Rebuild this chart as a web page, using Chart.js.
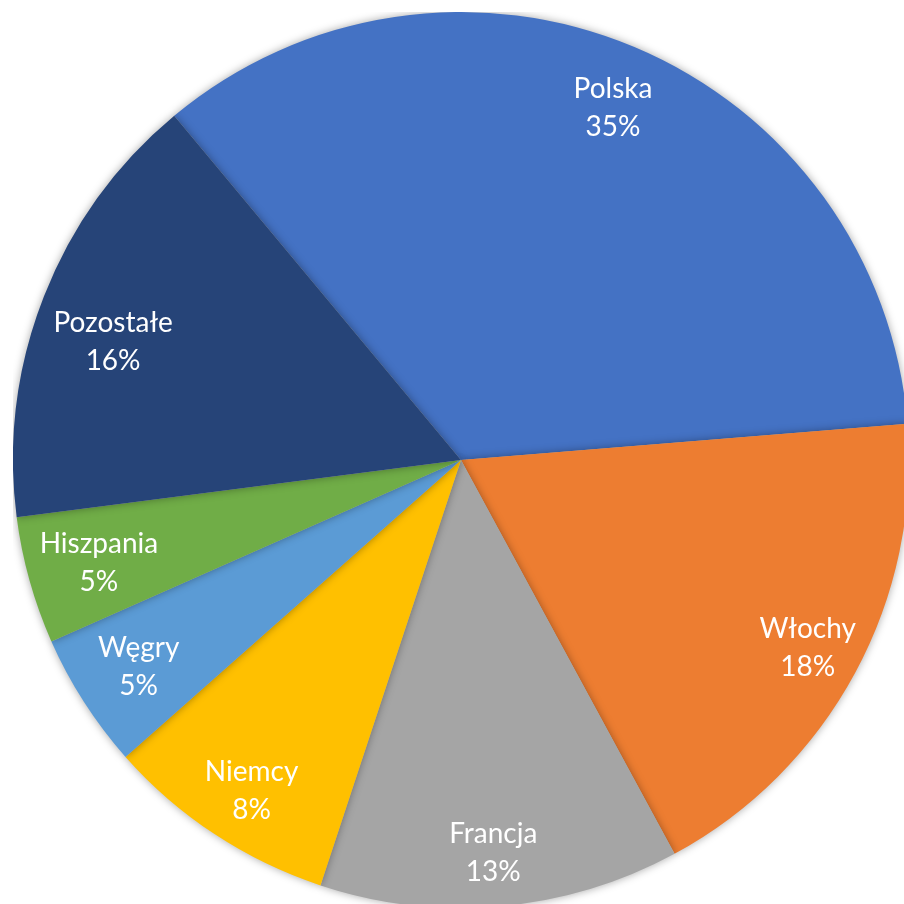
<!DOCTYPE html>
<html>
<head>
<meta charset="utf-8">
<script src="https://cdn.jsdelivr.net/npm/chart.js@4.4.1/dist/chart.umd.min.js"></script>
<style>
    html, body { margin: 0; padding: 0; background: #ffffff; overflow: hidden; width: 904px; height: 904px; }
    #contenedor { position: absolute; left: 13px; top: 12px; width: 896px; height: 896px; }
</style>
</head>
<body>
<div id="contenedor"><canvas id="graficoPaises"></canvas></div>
<script>
// Datos del gráfico
const paises = ['Polska', 'Włochy', 'Francja', 'Niemcy', 'Węgry', 'Hiszpania', 'Pozostałe'];
const valores = [34.8, 18.4, 13.0, 8.4, 4.9, 4.6, 16.0];
const colores = ['#4472C4', '#ED7D31', '#A5A5A5', '#FFC000', '#5B9BD5', '#70AD47', '#264478'];

// Ubicación de cada etiqueta: fracción del radio y giro (grados) respecto al ángulo medio
const distanciaEtiqueta = [0.855, 0.88, 0.88, 0.875, 0.855, 0.84, 0.82];
const giroEtiqueta = [0.6, 0, 0.4, -1.1, 0, -0.2, -2.7];

// Sombra suave alrededor del pastel
const sombraPlugin = {
    id: 'sombra',
    beforeDatasetsDraw(chart) {
        const ctx = chart.ctx;
        ctx.save();
        ctx.shadowColor = 'rgba(0, 0, 0, 0.35)';
        ctx.shadowBlur = 8;
        ctx.shadowOffsetX = 0;
        ctx.shadowOffsetY = 0;
    },
    afterDatasetsDraw(chart) {
        chart.ctx.restore();
    }
};

// Etiquetas con nombre y porcentaje dentro de cada porción
const etiquetasPlugin = {
    id: 'etiquetas',
    afterDraw(chart) {
        const ctx = chart.ctx;
        const meta = chart.getDatasetMeta(0);
        const total = valores.reduce((a, b) => a + b, 0);
        ctx.save();
        ctx.fillStyle = '#ffffff';
        ctx.font = '28px Lato';
        ctx.textAlign = 'center';
        ctx.textBaseline = 'middle';
        meta.data.forEach((arco, i) => {
            const p = arco.getProps(['x', 'y', 'startAngle', 'endAngle', 'outerRadius']);
            const medio = (p.startAngle + p.endAngle) / 2 + giroEtiqueta[i] * Math.PI / 180;
            const r = p.outerRadius * distanciaEtiqueta[i];
            const x = p.x + Math.cos(medio) * r;
            const y = p.y + Math.sin(medio) * r;
            const porcentaje = Math.round(valores[i] / total * 100) + '%';
            ctx.fillText(paises[i], x, y - 19);
            ctx.fillText(porcentaje, x, y + 19);
        });
        ctx.restore();
    }
};

const ctxPaises = document.getElementById('graficoPaises');
const graficoPaises = new Chart(ctxPaises, {
    type: 'pie',
    data: {
        labels: paises,
        datasets: [{
            data: valores,
            backgroundColor: colores,
            borderWidth: 0
        }]
    },
    options: {
        responsive: true,
        maintainAspectRatio: false,
        animation: false,
        rotation: -39.8,
        layout: { padding: 0 },
        plugins: {
            legend: { display: false },
            tooltip: { enabled: false }
        }
    },
    plugins: [sombraPlugin, etiquetasPlugin]
});
</script>
</body>
</html>
